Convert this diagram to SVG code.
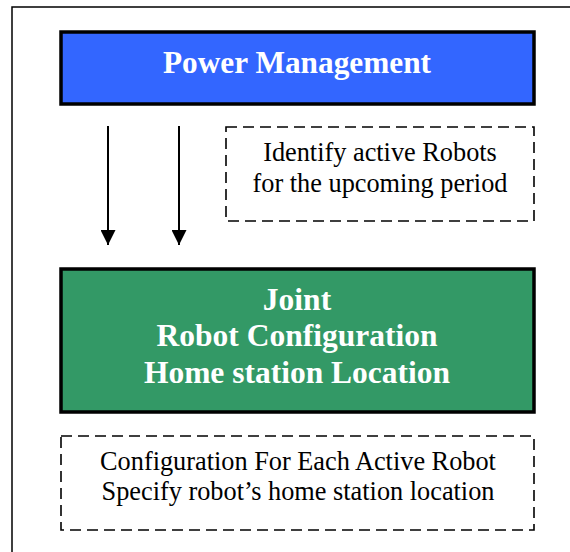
<svg xmlns="http://www.w3.org/2000/svg" width="570" height="552" viewBox="0 0 570 552">
<style>
.box{stroke:#000;stroke-width:3.5}
.dash{fill:none;stroke:#000;stroke-width:1.6;stroke-dasharray:11 6}
.title{font-family:"Liberation Serif","Times New Roman",serif;font-weight:bold;fill:#fff;text-anchor:middle}
.note{font-family:"Liberation Serif","Times New Roman",serif;fill:#000;text-anchor:middle;font-size:26.3px}
.conn{stroke:#000;stroke-width:2;fill:none}
</style>
<defs>
<marker id="ah" viewBox="0 0 15 15" refX="15" refY="7.5" markerWidth="15" markerHeight="15" markerUnits="userSpaceOnUse" orient="auto">
<path d="M0,0 L15,7.5 L0,15 Z" fill="#000"/>
</marker>
</defs>
<rect x="0" y="0" width="570" height="552" fill="#fff"/>
<path d="M12,552 L12,7 L570,7" fill="none" stroke="#000" stroke-width="1.5"/>
<g id="power">
<rect class="box" x="61" y="32" width="473" height="72" fill="#3366FF"/>
<text class="title" x="297" y="73" font-size="31.3">Power Management</text>
</g>
<g id="note1">
<rect class="dash" x="226" y="127" width="308" height="94"/>
<text class="note" x="380" y="161">Identify active Robots</text>
<text class="note" x="380" y="192">for the upcoming period</text>
</g>
<g id="joint">
<rect class="box" x="61" y="269" width="473" height="143" fill="#339966"/>
<text class="title" x="297" y="310" font-size="31.5">Joint</text>
<text class="title" x="297" y="346" font-size="31.5">Robot Configuration</text>
<text class="title" x="297" y="383" font-size="31.5">Home station Location</text>
</g>
<g id="note2">
<rect class="dash" x="61" y="436" width="473" height="94"/>
<text class="note" x="298" y="470">Configuration For Each Active Robot</text>
<text class="note" x="298" y="500">Specify robot’s home station location</text>
</g>
<g id="connectors">
<line class="conn" x1="108" y1="126" x2="108" y2="245" marker-end="url(#ah)"/>
<line class="conn" x1="179" y1="126" x2="179" y2="245" marker-end="url(#ah)"/>
</g>
</svg>
